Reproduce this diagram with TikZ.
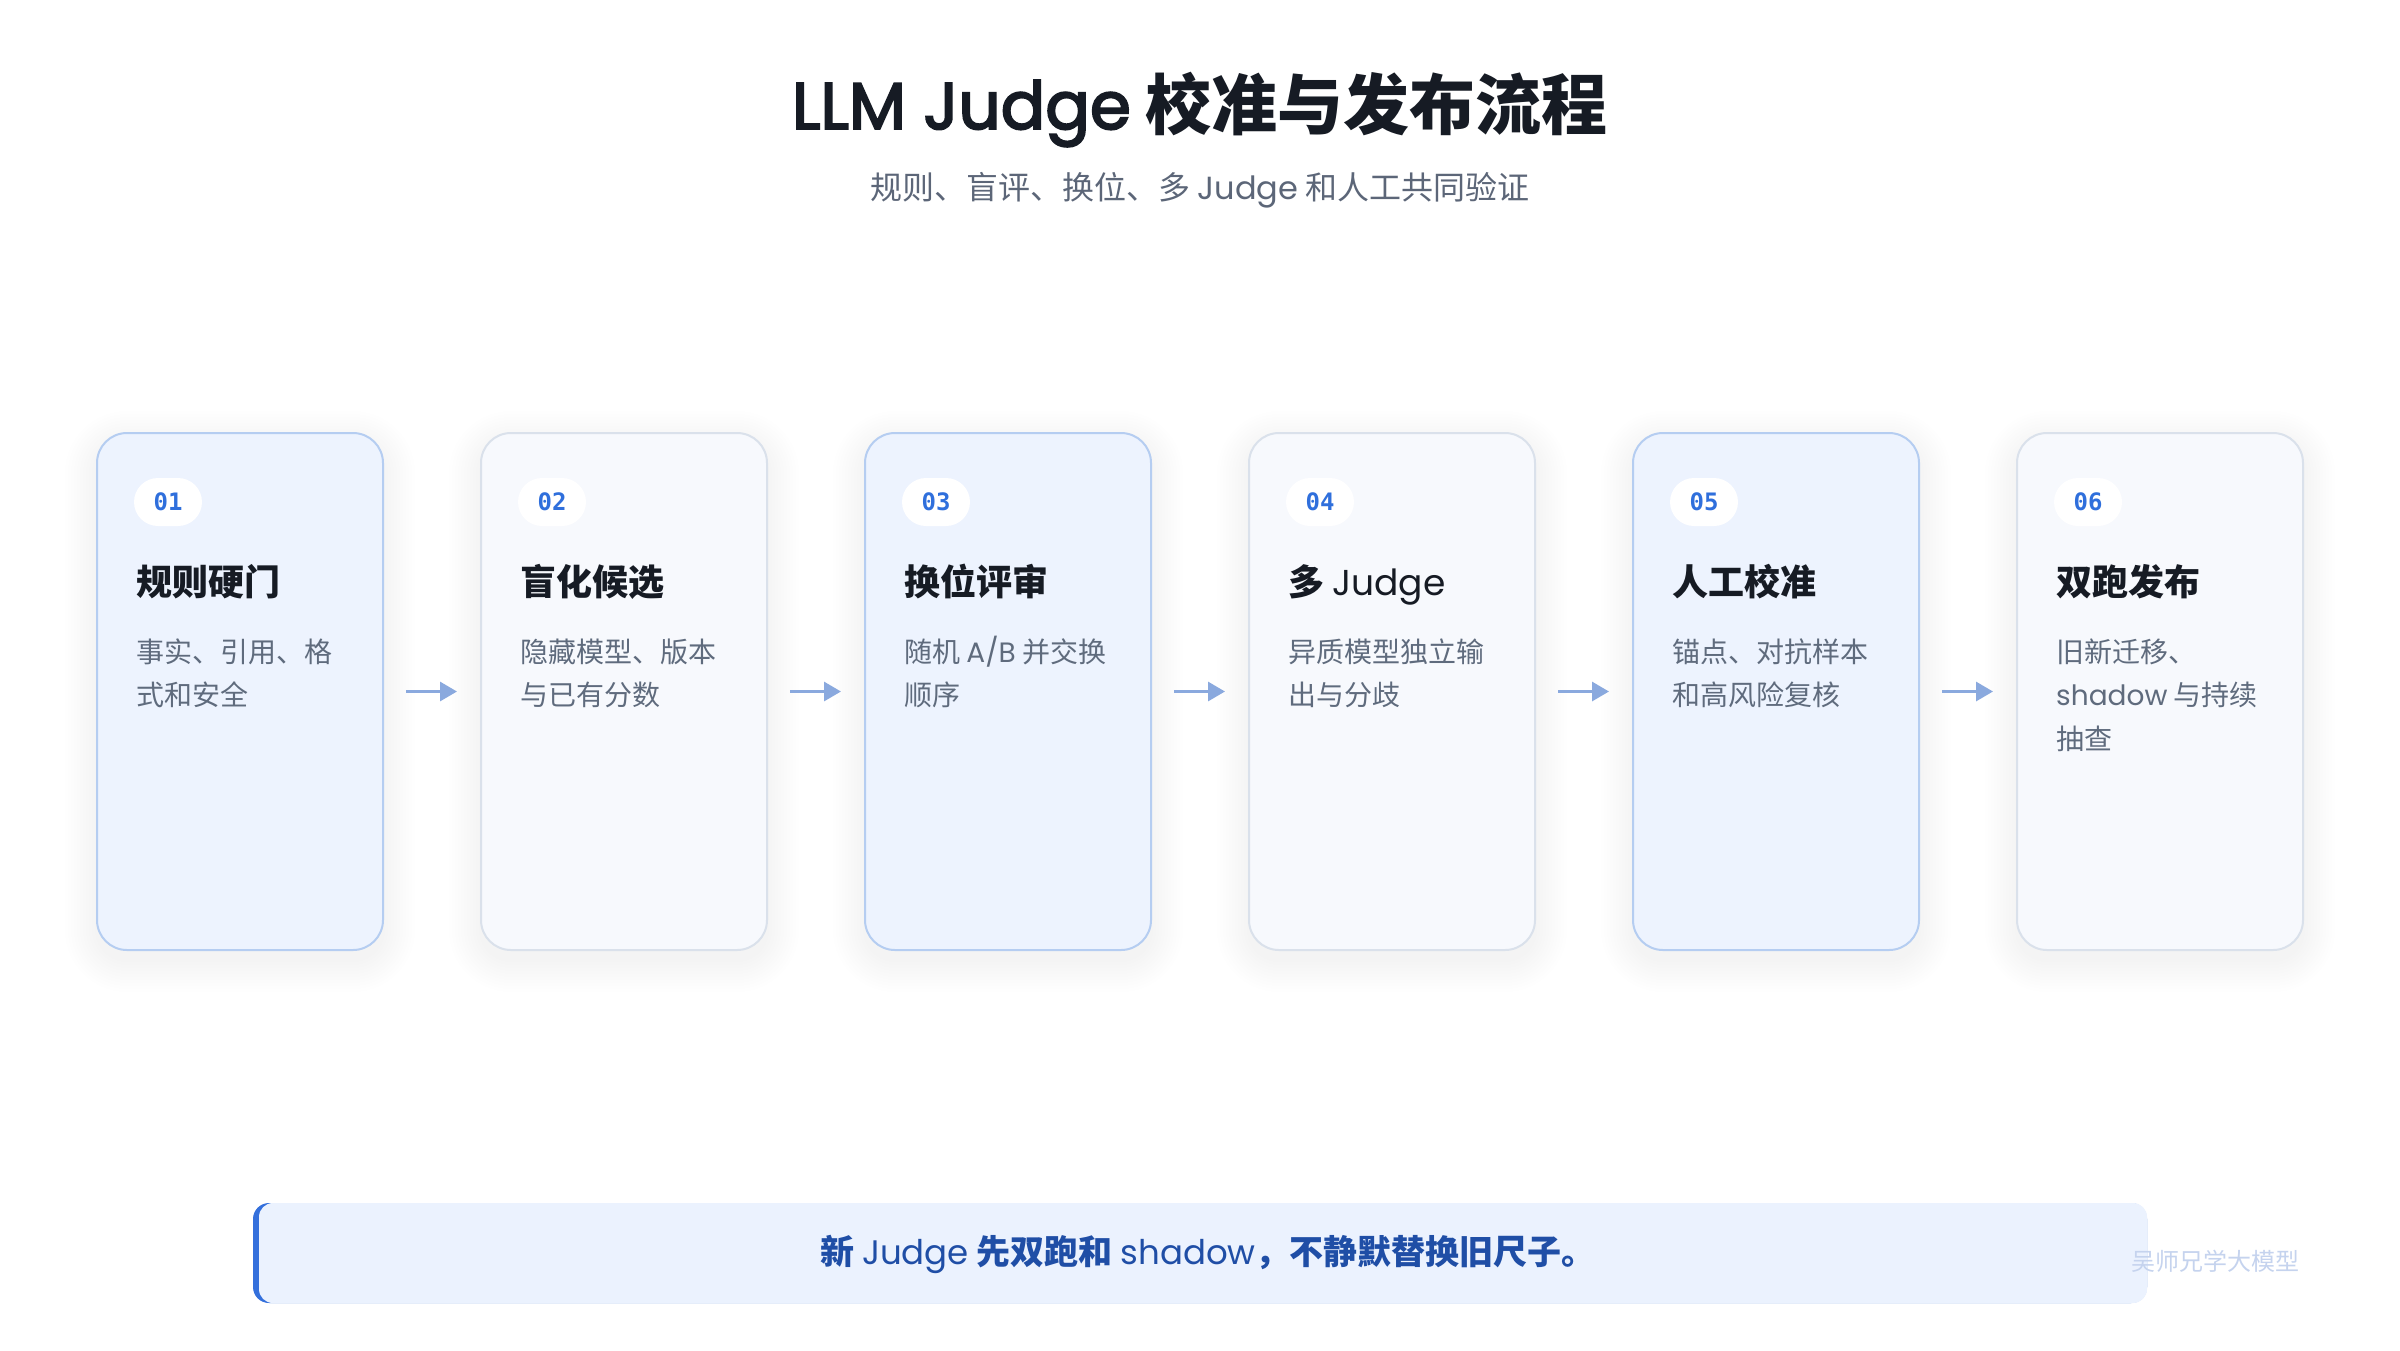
\documentclass[tikz,border=0pt]{standalone}
\usepackage{fontspec}
\setmainfont{Noto Sans CJK SC}
\newfontfamily\lat{Poppins}
\newfontfamily\latb[FakeBold=3]{Poppins}
\newfontfamily\mono{DejaVu Sans Mono}
\usetikzlibrary{arrows.meta}
\newcommand\Lt[1]{{\lat\mdseries #1}}
\definecolor{titlec}{HTML}{161B24}
\definecolor{subc}{HTML}{5C6678}
\definecolor{oddfill}{HTML}{EDF3FE}
\definecolor{odddraw}{HTML}{B5CDF1}
\definecolor{evenfill}{HTML}{F7F9FD}
\definecolor{evendraw}{HTML}{DAE1EB}
\definecolor{numc}{HTML}{2F6FDC}
\definecolor{descc}{HTML}{5F6B7D}
\definecolor{arrowc}{HTML}{8AA9DE}
\definecolor{bannerfill}{HTML}{EBF2FE}
\definecolor{accent}{HTML}{3470DC}
\definecolor{bannertext}{HTML}{1F4EA6}
\definecolor{wmc}{HTML}{C5D3EE}
\tikzset{
  cardbox/.style={rectangle, rounded corners=30pt, minimum width=286pt, minimum height=517pt,
    inner sep=0pt, outer sep=0pt, line width=2pt},
  oddcard/.style={fill=oddfill, draw=odddraw},
  evencard/.style={fill=evenfill, draw=evendraw},
  softshadow/.style={fill=black, opacity=0.004},
  badge/.style={rectangle, rounded corners=24pt, minimum width=68pt, minimum height=48pt,
    inner sep=0pt, fill=white, text=numc, font=\mono\bfseries\fontsize{24}{24}\selectfont},
  ctitle/.style={anchor=base west, inner sep=0pt, text=titlec, font=\bfseries\fontsize{36}{36}\selectfont},
  cdesc/.style={anchor=base west, inner sep=0pt, text=descc, font=\fontsize{28}{28}\selectfont},
  flow/.style={draw=arrowc, line width=3pt, -{Triangle[length=17pt,width=19pt]}},
}
\newcommand\stepcard[7]{%
  \foreach \s [evaluate=\s as \r using 30+\s] in {2,5,...,32}
    \fill[softshadow, rounded corners=\r pt] (#2-\s,443-\s) rectangle (#2+286+\s,960+\s);
  \node[cardbox,#3] (c#1) at (#2+143,691.5) {};
  \node[badge] (b#1) at (#2+71,502) {#4};
  \node[ctitle] (t#1) at (#2+39,595) {#5};
  \node[cdesc] (d#1a) at (#2+39,662) {#6};
  \node[cdesc] (d#1b) at (#2+39,705) {#7};
}
\begin{document}
\begin{tikzpicture}[x=1pt,y=-1pt]
\useasboundingbox (0,0) rectangle (2400,1350);
\fill[white] (0,0) rectangle (2400,1350);
\node[anchor=base, inner sep=0pt, text=titlec, font=\bfseries\fontsize{66}{66}\selectfont] (title) at (1200,129) {{\latb\mdseries LLM Judge} 校准与发布流程};
\node[anchor=base, inner sep=0pt, text=subc, font=\fontsize{32}{32}\selectfont] (subtitle) at (1200,199) {规则、盲评、换位、多 \Lt{Judge} 和人工共同验证};
\stepcard{1}{97}{oddcard}{01}{规则硬门}{事实、引用、格}{式和安全}
\stepcard{2}{481}{evencard}{02}{盲化候选}{隐藏模型、版本}{与已有分数}
\stepcard{3}{865}{oddcard}{03}{换位评审}{随机 \Lt{A/B} 并交换}{顺序}
\stepcard{4}{1249}{evencard}{04}{多 \Lt{Judge}}{异质模型独立输}{出与分歧}
\stepcard{5}{1633}{oddcard}{05}{人工校准}{锚点、对抗样本}{和高风险复核}
\stepcard{6}{2017}{evencard}{06}{双跑发布}{旧新迁移、}{\Lt{shadow} 与持续}
\node[cdesc] (d6c) at (2056,749) {抽查};
\foreach \a/\b in {1/2,2/3,3/4,4/5,5/6}
  \draw[flow] ([xshift=23pt]c\a.east) -- ([xshift=-24pt]c\b.west);
\node[rectangle, rounded corners=16pt, minimum width=1894pt, minimum height=100pt, inner sep=0pt, fill=accent] (bannerbar) at (1200,1253) {};
\node[rectangle, rounded corners=14pt, minimum width=1888pt, minimum height=100pt, inner sep=0pt, fill=bannerfill] (banner) at (1203,1253) {};
\node[anchor=base, inner sep=0pt, text=bannertext, font=\bfseries\fontsize{34}{34}\selectfont] (bannertxt) at (1208,1264) {新 \Lt{Judge} 先双跑和 \Lt{shadow}，不静默替换旧尺子。};
\node[anchor=base, inner sep=0pt, text=wmc, font=\fontsize{24}{24}\selectfont] (wm) at (2215,1270) {吴师兄学大模型};
\end{tikzpicture}
\end{document}
